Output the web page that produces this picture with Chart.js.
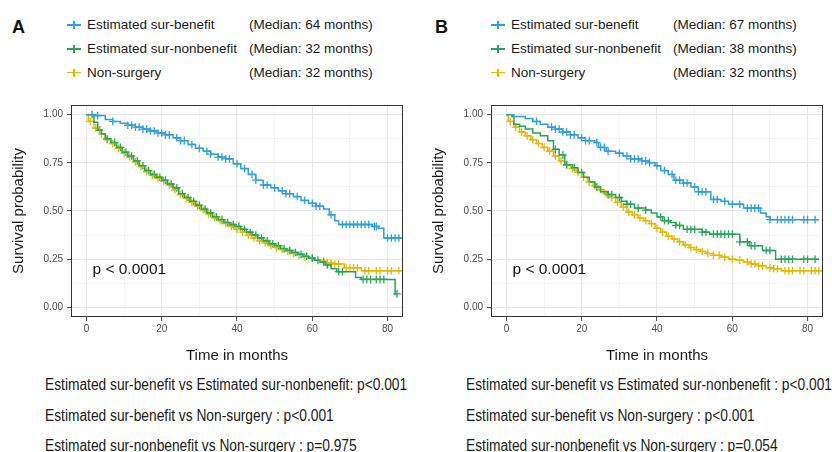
<!DOCTYPE html>
<html>
<head>
<meta charset="utf-8">
<title>Survival by estimated surgical benefit</title>
<script src="https://cdn.jsdelivr.net/npm/chart.js@4.4.1/dist/chart.umd.min.js"></script>
<style>
  body { margin: 0; background: #fff; font-family: "Liberation Sans", Arial, sans-serif; }
  #wrap { position: relative; width: 832px; height: 452px; overflow: hidden; background: #fff; }
  .tag { position: absolute; font-weight: bold; font-size: 18px; color: #111; line-height: 20px; }
  .leg { position: absolute; font-size: 13.5px; color: #1A1A1A; line-height: 16px; white-space: nowrap; }
  .mk-h, .mk-v { position: absolute; }
  .stats { position: absolute; font-family: "Liberation Sans", Arial, sans-serif;
           font-size: 16px; color: #1A1A1A; white-space: nowrap; line-height: 18px;
           transform: scaleX(0.86); transform-origin: left center; }
  canvas { position: absolute; }
</style>
</head>
<body>
<div id="wrap">
  <div class="tag" style="left:12px;top:17px">A</div>
  <div class="tag" style="left:435px;top:17px">B</div>
  <canvas id="kmA" width="410" height="270" style="left:0;top:95px;width:410px;height:270px"></canvas>
  <canvas id="kmB" width="410" height="270" style="left:420px;top:95px;width:410px;height:270px"></canvas>
</div>
<script>
// groups, colours and medians shown in the legends
const groups = ['Estimated sur-benefit', 'Estimated sur-nonbenefit', 'Non-surgery'];
const colors = ['#2E9FDF', '#26A65B', '#E7B800'];
const mediansA = [64, 32, 32];
const mediansB = [67, 38, 32];

// axis ticks (minor ticks get grid lines only)
const xTicks = [0, 10, 20, 30, 40, 50, 60, 70, 80];
const xLabels = [0, 20, 40, 60, 80];
const yTicks = [0, 0.125, 0.25, 0.375, 0.5, 0.625, 0.75, 0.875, 1];
const yLabels = [0, 0.25, 0.5, 0.75, 1];

// ---- Panel A: Kaplan-Meier steps (time, survival) and censor times ----
const timeA1 = [0, 2.5, 5, 7, 9, 11, 13, 15, 17, 19, 21, 23, 25, 27, 29, 31, 33, 35, 37, 39, 41, 43, 45, 47, 49, 51, 53, 55, 57, 59, 61, 63, 64.5, 66, 67, 76, 77.5, 79, 83.5];
const survA1 = [1, 0.995, 0.975, 0.965, 0.955, 0.945, 0.935, 0.925, 0.915, 0.905, 0.895, 0.88, 0.865, 0.845, 0.825, 0.81, 0.795, 0.78, 0.77, 0.745, 0.72, 0.69, 0.66, 0.635, 0.62, 0.605, 0.59, 0.575, 0.555, 0.54, 0.525, 0.51, 0.48, 0.45, 0.43, 0.42, 0.41, 0.36, 0.36];
const censA1 = [3, 7, 11, 12, 13, 14, 15, 16, 17, 18, 19, 20, 21, 22, 24, 25, 26, 28, 30, 32, 33, 35, 36, 37, 38, 40, 42, 44, 45, 47, 48, 50, 52, 53, 54, 56, 58, 60, 61, 62, 65, 68, 69, 70, 71, 72, 73, 74, 75, 76.5, 77, 80, 81, 82, 83];

const timeA2 = [0, 2, 3, 4, 5, 6.5, 8, 9.5, 11, 12.5, 14, 15.5, 17, 18.5, 20, 21.5, 23, 24.5, 26, 27.5, 29, 30.5, 32, 33.5, 35, 36.5, 38, 39.5, 41, 42.5, 44, 45.5, 47, 48.5, 50, 51.5, 53, 54.5, 56, 57.5, 59, 60.5, 62, 63.5, 65, 66.5, 71.5, 73, 82, 82.5];
const survA2 = [1, 0.96, 0.92, 0.9, 0.875, 0.855, 0.83, 0.805, 0.785, 0.76, 0.735, 0.71, 0.69, 0.675, 0.66, 0.64, 0.62, 0.59, 0.57, 0.55, 0.53, 0.51, 0.49, 0.47, 0.455, 0.44, 0.43, 0.42, 0.405, 0.39, 0.375, 0.36, 0.345, 0.33, 0.32, 0.305, 0.295, 0.285, 0.275, 0.265, 0.255, 0.245, 0.235, 0.22, 0.2, 0.185, 0.155, 0.145, 0.07, 0.07];
const censA2 = [1.5, 3.5, 5.5, 7.5, 9, 10.5, 12, 13.5, 15, 16.5, 18, 19.5, 21, 22.5, 24, 25.5, 27, 28.5, 30, 31.5, 33, 34.5, 36, 37.5, 39, 40.5, 42, 43.5, 45, 46.5, 48, 49.5, 51, 52.5, 54, 55.5, 57, 58.5, 60, 61.5, 63, 64, 67, 68, 73.5, 74.5, 75.5, 77, 78, 79, 82.5];

const timeA3 = [0, 0.5, 2, 3.5, 5, 6.5, 8, 9.5, 11, 12.5, 14, 15.5, 17, 18.5, 20, 21.5, 23, 24.5, 26, 27.5, 29, 30.5, 32, 33.5, 35, 36.5, 38, 39.5, 41, 42.5, 44, 45.5, 47, 48.5, 50, 51.5, 53, 54.5, 56, 57.5, 59, 60.5, 62, 64, 66, 68.5, 73, 84];
const survA3 = [1, 0.965, 0.93, 0.9, 0.87, 0.85, 0.825, 0.8, 0.78, 0.755, 0.73, 0.705, 0.685, 0.67, 0.655, 0.635, 0.61, 0.585, 0.565, 0.545, 0.525, 0.505, 0.485, 0.465, 0.45, 0.435, 0.42, 0.405, 0.39, 0.375, 0.36, 0.345, 0.335, 0.32, 0.31, 0.3, 0.29, 0.28, 0.27, 0.26, 0.255, 0.245, 0.24, 0.23, 0.225, 0.205, 0.19, 0.19];
const censA3 = [1, 2.5, 4, 5.5, 7, 8.5, 10, 11.5, 13, 14.5, 16, 17.5, 19, 20.5, 22, 23.5, 25, 26.5, 28, 29.5, 31, 32.5, 34, 35.5, 37, 38.5, 40, 41.5, 43, 44.5, 46, 47.5, 49, 50.5, 52, 53.5, 55, 56.5, 58, 60, 63, 64, 65, 66, 67, 69, 70, 71, 72, 74, 75, 77, 78, 80, 81, 83];

// ---- Panel B ----
const timeB1 = [0, 2, 5, 7, 9, 11, 13, 15, 17, 19, 21, 23.5, 24.5, 26.5, 29, 31, 33, 36, 38, 39.5, 41, 43, 44.5, 47, 49, 51, 54.3, 57, 59, 63, 67.5, 69, 70, 83];
const survB1 = [1, 0.99, 0.98, 0.965, 0.95, 0.935, 0.925, 0.91, 0.895, 0.88, 0.865, 0.855, 0.83, 0.81, 0.8, 0.785, 0.77, 0.76, 0.75, 0.735, 0.71, 0.69, 0.66, 0.645, 0.625, 0.6, 0.56, 0.55, 0.535, 0.515, 0.49, 0.47, 0.455, 0.455];
const censB1 = [8, 12, 13, 14, 15, 16, 17, 18, 20, 21, 22, 24, 25, 26, 27, 30, 32, 33, 34, 35, 36, 37, 38, 40, 42, 44, 45, 46, 47, 48, 50, 51, 52, 53, 55, 56, 58, 60, 62, 64, 65, 66, 67, 70, 72, 73, 74, 75, 76, 79, 80, 82];

const timeB2 = [0, 1.5, 2, 3.5, 5, 7, 9, 11, 12.5, 14, 15.5, 17.5, 19, 20.5, 22, 23.5, 25, 27, 29, 30.5, 32, 34, 37, 38.5, 40, 41.5, 43.5, 45, 47, 52, 54, 62, 64.5, 68, 71.5, 83];
const survB2 = [1, 0.99, 0.95, 0.94, 0.925, 0.905, 0.89, 0.865, 0.82, 0.79, 0.74, 0.725, 0.7, 0.675, 0.65, 0.625, 0.6, 0.585, 0.57, 0.55, 0.535, 0.515, 0.505, 0.49, 0.47, 0.45, 0.44, 0.425, 0.405, 0.39, 0.38, 0.34, 0.32, 0.295, 0.25, 0.25];
const censB2 = [13, 15, 16, 18, 20, 24, 27, 28, 30, 32, 33, 35, 37, 41, 42, 43, 45, 46, 48, 49, 50, 52, 53, 55, 56, 57, 58, 59, 60, 62, 64, 65, 66, 69, 70, 73, 74, 75, 76, 79, 80, 82];

const timeB3 = [0, 0.5, 2, 3.5, 5, 6.5, 8, 9.5, 11, 12.5, 14, 15.5, 17, 18.5, 20, 21.5, 23, 24.5, 26, 27.5, 29, 30.5, 32, 33.5, 35, 36.5, 38, 39.5, 41, 42.5, 44, 45.5, 47, 48.5, 50, 51.5, 53, 55, 57, 59, 61, 63, 65, 67, 69, 71, 73, 84];
const survB3 = [1, 0.965, 0.935, 0.91, 0.89, 0.87, 0.85, 0.83, 0.81, 0.785, 0.76, 0.74, 0.72, 0.7, 0.675, 0.65, 0.63, 0.61, 0.59, 0.57, 0.545, 0.52, 0.495, 0.48, 0.465, 0.45, 0.435, 0.41, 0.39, 0.37, 0.355, 0.34, 0.325, 0.31, 0.3, 0.29, 0.28, 0.27, 0.26, 0.25, 0.245, 0.235, 0.225, 0.215, 0.205, 0.2, 0.19, 0.19];
const censB3 = [1, 2.5, 4, 5.5, 7, 8.5, 10, 11.5, 13, 14.5, 16, 17.5, 19, 20.5, 22, 23.5, 25, 26.5, 28, 29.5, 31, 32.5, 34, 35.5, 37, 38.5, 40, 41.5, 43, 44.5, 46, 47.5, 49, 50.5, 52, 53.5, 55, 56.5, 58, 60, 62, 64, 65, 66, 67, 68, 70, 71, 72, 74, 75, 76, 78, 79, 81, 82, 83];

// pairwise log-rank results printed under each panel
const statsA = ['Estimated sur-benefit vs Estimated sur-nonbenefit: p<0.001',
                'Estimated sur-benefit vs Non-surgery : p<0.001',
                'Estimated sur-nonbenefit vs Non-surgery : p=0.975'];
const statsB = ['Estimated sur-benefit vs Estimated sur-nonbenefit : p<0.001',
                'Estimated sur-benefit vs Non-surgery : p<0.001',
                'Estimated sur-nonbenefit vs Non-surgery : p=0.054'];

// survival value of a step curve at time t
function survAt(times, surv, t) {
  let s = surv[0];
  for (let i = 0; i < times.length; i++) {
    if (times[i] <= t) s = surv[i]; else break;
  }
  return s;
}

// plot frame and overall p-value text
const framePlugin = {
  id: 'frame',
  afterDraw(chart, args, opts) {
    const { ctx, chartArea: a, scales } = chart;
    ctx.save();
    ctx.strokeStyle = '#333';
    ctx.lineWidth = 1;
    ctx.strokeRect(Math.round(a.left) + 0.5, Math.round(a.top) + 0.5,
                   Math.round(a.right - a.left) - 1, Math.round(a.bottom - a.top) - 1);
    ctx.font = '15.5px "Liberation Sans", Arial, sans-serif';
    ctx.fillStyle = '#111';
    ctx.textBaseline = 'middle';
    ctx.fillText(opts.text, scales.x.getPixelForValue(opts.x), scales.y.getPixelForValue(opts.y));
    ctx.restore();
  }
};

function buildPanel(id, curves) {
  const datasets = [];
  curves.forEach((c, i) => {
    datasets.push({
      data: c.t.map((t, k) => ({ x: t, y: c.s[k] })),
      borderColor: colors[i],
      borderWidth: 1.5,
      stepped: true,
      pointRadius: 0,
      fill: false
    });
  });
  curves.forEach((c, i) => {
    datasets.push({
      data: c.cens.map(t => ({ x: t, y: survAt(c.t, c.s, t) })),
      showLine: false,
      pointStyle: 'cross',
      pointRadius: 3.8,
      pointBorderWidth: 1.3,
      borderColor: colors[i],
      backgroundColor: colors[i]
    });
  });

  const isMajor = (list, v) => list.some(m => Math.abs(m - v) < 1e-9);

  new Chart(document.getElementById(id), {
    type: 'line',
    data: { datasets },
    options: {
      responsive: false,
      animation: false,
      layout: { padding: { top: 4, right: 7, left: 0, bottom: 0 } },
      plugins: {
        legend: { display: false },
        tooltip: { enabled: false },
        frame: { text: 'p < 0.0001', x: 1.6, y: 0.193 }
      },
      scales: {
        x: {
          type: 'linear',
          min: -4.1, max: 84.1,
          afterBuildTicks: s => { s.ticks = xTicks.map(v => ({ value: v })); },
          afterFit: s => { s.height = 48; },
          border: { display: false },
          grid: {
            color: ctx => isMajor(xLabels, ctx.tick.value) ? '#E8E8E8' : '#F1F1F1',
            lineWidth: ctx => isMajor(xLabels, ctx.tick.value) ? 1.1 : 0.7,
            tickColor: ctx => isMajor(xLabels, ctx.tick.value) ? '#555' : 'rgba(0,0,0,0)',
            tickLength: 4
          },
          ticks: {
            autoSkip: false, maxRotation: 0, padding: 2,
            color: '#4D4D4D',
            font: { family: '"Liberation Sans", Arial, sans-serif', size: 10 },
            callback: v => isMajor(xLabels, v) ? String(v) : ''
          },
          title: {
            display: true, text: 'Time in months', color: '#1A1A1A',
            font: { family: '"Liberation Sans", Arial, sans-serif', size: 15 },
            padding: { top: 4, bottom: 0 }
          }
        },
        y: {
          min: -0.05, max: 1.05,
          afterBuildTicks: s => { s.ticks = yTicks.map(v => ({ value: v })); },
          afterFit: s => { s.width = 71; },
          border: { display: false },
          grid: {
            color: ctx => isMajor(yLabels, ctx.tick.value) ? '#E8E8E8' : '#F1F1F1',
            lineWidth: ctx => isMajor(yLabels, ctx.tick.value) ? 1.1 : 0.7,
            tickColor: ctx => isMajor(yLabels, ctx.tick.value) ? '#555' : 'rgba(0,0,0,0)',
            tickLength: 4
          },
          ticks: {
            autoSkip: false, padding: 4,
            color: '#4D4D4D',
            font: { family: '"Liberation Sans", Arial, sans-serif', size: 10 },
            callback: v => isMajor(yLabels, v) ? v.toFixed(2) : ''
          },
          title: {
            display: true, text: 'Survival probability', color: '#1A1A1A',
            font: { family: '"Liberation Sans", Arial, sans-serif', size: 15 },
            padding: { top: 10, bottom: 0 }
          }
        }
      }
    },
    plugins: [framePlugin]
  });
}

// legend rows: "+" key, group name, median survival
function buildLegend(x0, medians) {
  const wrap = document.getElementById('wrap');
  const rowsY = [25, 49, 72.5];
  groups.forEach((g, i) => {
    const y = rowsY[i];
    const h = document.createElement('div');
    h.className = 'mk-h';
    h.style.cssText = `left:${x0}px;top:${y - 0.75}px;width:14px;height:1.5px;background:${colors[i]}`;
    const v = document.createElement('div');
    v.className = 'mk-v';
    v.style.cssText = `left:${x0 + 6.25}px;top:${y - 4}px;width:1.5px;height:8px;background:${colors[i]}`;
    const name = document.createElement('div');
    name.className = 'leg';
    name.style.cssText = `left:${x0 + 20}px;top:${y - 8}px`;
    name.textContent = g;
    const med = document.createElement('div');
    med.className = 'leg';
    med.style.cssText = `left:${x0 + 182}px;top:${y - 8}px`;
    med.textContent = `(Median: ${medians[i]} months)`;
    wrap.append(h, v, name, med);
  });
}

function buildStats(x0, lines) {
  const wrap = document.getElementById('wrap');
  const ys = [385, 415.5, 446];
  lines.forEach((txt, i) => {
    const d = document.createElement('div');
    d.className = 'stats';
    d.style.cssText = `left:${x0}px;top:${ys[i] - 9}px`;
    d.textContent = txt;
    wrap.append(d);
  });
}

buildPanel('kmA', [
  { t: timeA1, s: survA1, cens: censA1 },
  { t: timeA2, s: survA2, cens: censA2 },
  { t: timeA3, s: survA3, cens: censA3 }
]);
buildPanel('kmB', [
  { t: timeB1, s: survB1, cens: censB1 },
  { t: timeB2, s: survB2, cens: censB2 },
  { t: timeB3, s: survB3, cens: censB3 }
]);
buildLegend(67, mediansA);
buildLegend(491, mediansB);
buildStats(45, statsA);
buildStats(466, statsB);
</script>
</body>
</html>
